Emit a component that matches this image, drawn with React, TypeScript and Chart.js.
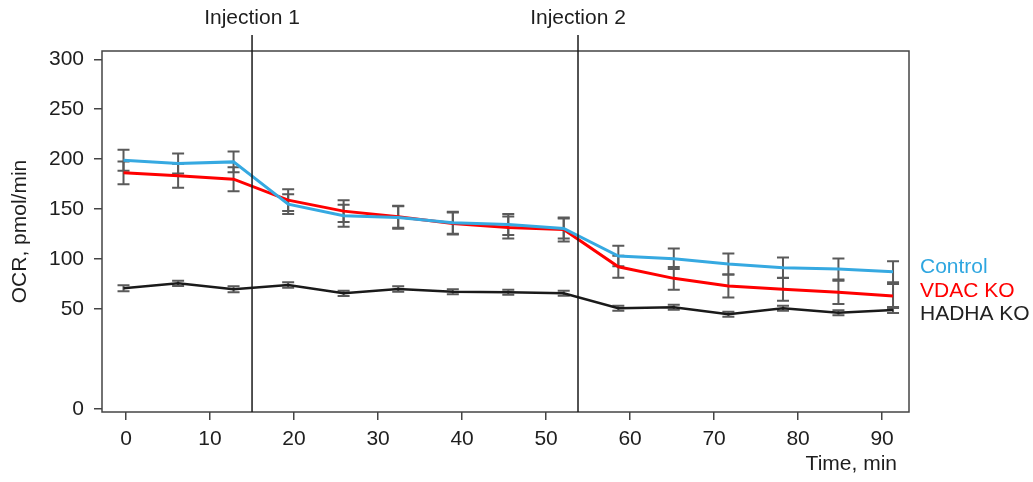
import React, { useEffect, useRef } from 'react';
import { Chart, registerables } from 'chart.js';

Chart.register(...registerables);

// ---- Data ----
const times = [-0.3, 6.2, 12.8, 19.3, 25.9, 32.4, 38.9, 45.5, 52.1, 58.6, 65.2, 71.7, 78.2, 84.8, 91.3];
const controlValues = [199, 195.7, 197.3, 155, 143.3, 141.7, 136.3, 134.7, 130.7, 103, 100.3, 95, 91.3, 90, 87.3];
const controlErrors = [10.5, 10, 10.3, 10, 11, 11.3, 11, 10.5, 10, 10.3, 10.3, 10.5, 10.3, 10.5, 10.5];
const vdacValues = [186.3, 183.3, 180, 159, 148, 142.3, 135.7, 131.7, 129.7, 92.3, 80.7, 73, 69.7, 66.7, 63];
const vdacErrors = [11.3, 12, 12, 10.8, 11, 11, 11, 11, 12, 11, 11.3, 11.5, 11.5, 11.7, 12];
const hadhaValues = [70.7, 75.7, 69.7, 74, 65.7, 70, 67.3, 66.7, 65.7, 50.7, 51.7, 44.7, 50.7, 46.3, 49];
const hadhaErrors = [3, 2.7, 3, 2.7, 2.7, 2.7, 2.5, 2.5, 2.5, 2.5, 2.5, 2.5, 2.5, 2.5, 3];

const seriesNames = ['Control', 'VDAC KO', 'HADHA KO'];
const seriesColors = ['#36a9e1', '#ff0000', '#1a1a1a'];
const legendColors = ['#2ea6e0', '#ff0000', '#222222'];

const xTickValues = [0, 10, 20, 30, 40, 50, 60, 70, 80, 90];
// broken axis: the "0" label sits below the break
const yTickValues = [-50, 50, 100, 150, 200, 250, 300];
const yTickLabels = ['0', '50', '100', '150', '200', '250', '300'];

const injectionTimes = [15, 53.8];
const injectionLabels = ['Injection 1', 'Injection 2'];

const xTitle = 'Time, min';
const yTitle = 'OCR, pmol/min';

const FONT = '"Liberation Sans", Arial, Helvetica, sans-serif';
const FSIZE = 21;
const TEXT = '#1e1e1e';
const FRAME = '#444444';

const seriesValues = [controlValues, vdacValues, hadhaValues];
const seriesErrors = [controlErrors, vdacErrors, hadhaErrors];

const overlayPlugin = {
  id: 'overlay',
  beforeDatasetsDraw(chart: any) {
    const { ctx, scales } = chart;
    const x = scales.x;
    const y = scales.y;
    ctx.save();
    ctx.strokeStyle = '#5a5a5a';
    ctx.lineWidth = 2;
    seriesValues.forEach((vals, i) => {
      const errs = seriesErrors[i];
      vals.forEach((v, j) => {
        const px = x.getPixelForValue(times[j]);
        const top = y.getPixelForValue(v + errs[j]);
        const bot = y.getPixelForValue(v - errs[j]);
        ctx.beginPath();
        ctx.moveTo(px, top);
        ctx.lineTo(px, bot);
        ctx.moveTo(px - 6, top);
        ctx.lineTo(px + 6, top);
        ctx.moveTo(px - 6, bot);
        ctx.lineTo(px + 6, bot);
        ctx.stroke();
      });
    });
    ctx.restore();
  },
  afterDatasetsDraw(chart: any) {
    const { ctx, chartArea, scales } = chart;
    const x = scales.x;
    ctx.save();
    // frame
    ctx.strokeStyle = FRAME;
    ctx.lineWidth = 1.5;
    ctx.strokeRect(chartArea.left, chartArea.top, chartArea.right - chartArea.left, chartArea.bottom - chartArea.top);
    // injection lines
    ctx.strokeStyle = '#1a1a1a';
    ctx.lineWidth = 1.5;
    ctx.font = `${FSIZE}px ${FONT}`;
    ctx.fillStyle = TEXT;
    ctx.textAlign = 'center';
    ctx.textBaseline = 'alphabetic';
    injectionTimes.forEach((t, i) => {
      const px = x.getPixelForValue(t);
      ctx.beginPath();
      ctx.moveTo(px, chartArea.top - 16);
      ctx.lineTo(px, chartArea.bottom);
      ctx.stroke();
      ctx.fillText(injectionLabels[i], px, chartArea.top - 27);
    });
    // legend labels
    ctx.textAlign = 'left';
    const offs = [222, 246, 269];
    seriesNames.forEach((n, i) => {
      ctx.fillStyle = legendColors[i];
      ctx.fillText(n, chartArea.right + 11, chartArea.top + offs[i]);
    });
    // x title
    ctx.fillStyle = TEXT;
    ctx.textAlign = 'right';
    ctx.fillText(xTitle, chartArea.right - 12, chartArea.bottom + 58);
    ctx.restore();
  },
};

export default function App() {
  const ref = useRef<HTMLCanvasElement>(null);
  useEffect(() => {
    if (!ref.current) return;
    const chart = new Chart(ref.current, {
      type: 'line',
      data: {
        datasets: seriesNames.map((name, i) => ({
          label: name,
          data: seriesValues[i].map((v, j) => ({ x: times[j], y: v })),
          borderColor: seriesColors[i],
          backgroundColor: seriesColors[i],
          borderWidth: i === 2 ? 2.5 : 3,
          pointRadius: 0,
          tension: 0,
          fill: false,
        })),
      },
      options: {
        responsive: false,
        animation: false,
        devicePixelRatio: 1,
        layout: { padding: { top: 51, right: 124, left: 0, bottom: 0 } },
        plugins: { legend: { display: false }, tooltip: { enabled: false } },
        scales: {
          x: {
            type: 'linear',
            min: -2.86,
            max: 93.2,
            afterBuildTicks: (s: any) => {
              s.ticks = xTickValues.map((v) => ({ value: v }));
            },
            afterFit: (s: any) => {
              s.height = 70;
            },
            ticks: {
              autoSkip: false,
              maxRotation: 0,
              padding: 7,
              color: TEXT,
              font: { family: FONT, size: FSIZE },
            },
            grid: { drawOnChartArea: false, drawTicks: true, tickLength: 8, color: FRAME, lineWidth: 1.5 },
            border: { display: false },
          },
          y: {
            type: 'linear',
            min: -53.1,
            max: 308.3,
            afterBuildTicks: (s: any) => {
              s.ticks = yTickValues.map((v) => ({ value: v }));
            },
            afterFit: (s: any) => {
              s.width = 102;
            },
            ticks: {
              autoSkip: false,
              padding: 10,
              color: TEXT,
              font: { family: FONT, size: FSIZE },
              callback: (v: any) => {
                const k = yTickValues.indexOf(Number(v));
                return k >= 0 ? yTickLabels[k] : '';
              },
            },
            title: {
              display: true,
              text: yTitle,
              color: TEXT,
              font: { family: FONT, size: FSIZE },
              padding: { top: 8, bottom: 0 },
            },
            grid: { drawOnChartArea: false, drawTicks: true, tickLength: 8, color: FRAME, lineWidth: 1.5 },
            border: { display: false },
          },
        },
      },
      plugins: [overlayPlugin],
    });
    return () => chart.destroy();
  }, []);
  return (
    <div style={{ position: 'fixed', left: 0, top: 0, width: 1033, height: 482, background: '#fff' }}>
      <canvas ref={ref} width={1033} height={482} style={{ display: 'block' }} />
    </div>
  );
}
